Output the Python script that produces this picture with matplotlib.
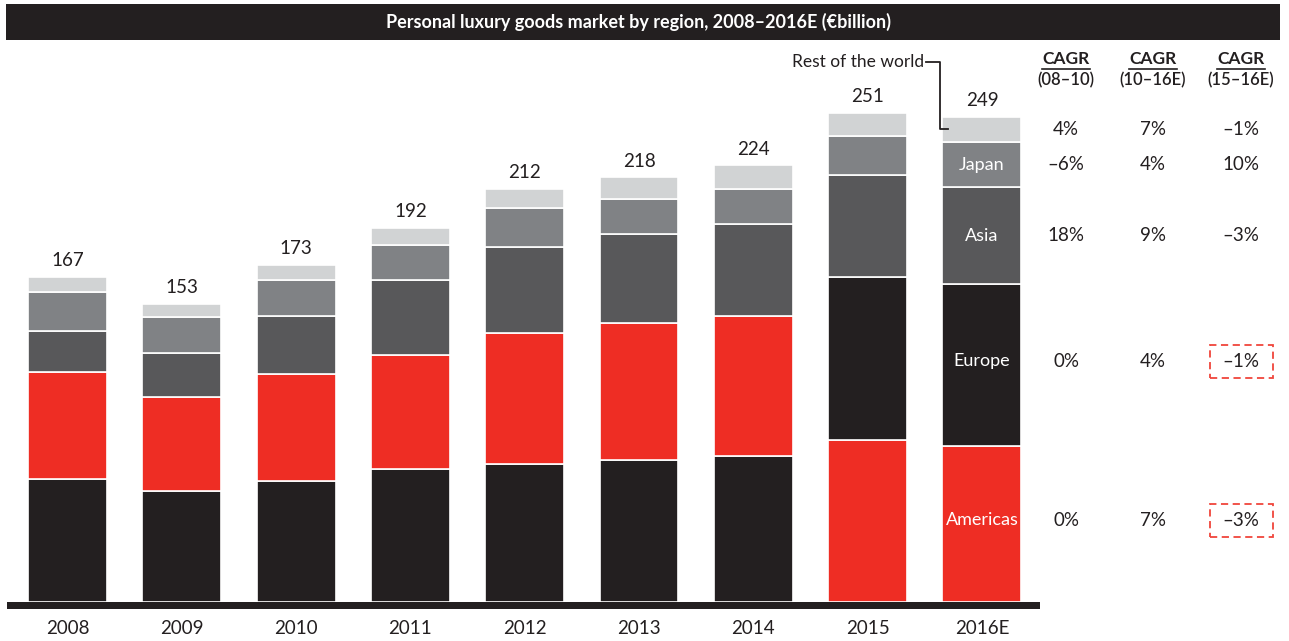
import numpy as np
import matplotlib.pyplot as plt
from matplotlib.patches import Rectangle
from matplotlib.lines import Line2D
from matplotlib.transforms import blended_transform_factory

plt.rcParams['font.family'] = ['Lato', 'DejaVu Sans']

# market size by region, €billion
years = ["2008", "2009", "2010", "2011", "2012", "2013", "2014", "2015", "2016E"]
europe = [63, 57, 62, 68, 71, 73, 75, 84, 83]
americas = [55, 48, 55, 59, 67, 70, 72, 83, 80]
asia = [21, 23, 30, 38, 44, 46, 47, 52, 50]
japan = [20, 18, 18, 18, 20, 18, 18, 20, 23]
rest_of_world = [8, 7, 8, 9, 10, 11, 12, 12, 13]
# the last two years stack Americas underneath Europe
americas_first = [False, False, False, False, False, False, False, True, True]

# CAGR table, rows: rest of world, Japan, Asia, Europe, Americas
cagr_periods = ["(08–10)", "(10–16E)", "(15–16E)"]
cagr_08_10 = ["4%", "–6%", "18%", "0%", "0%"]
cagr_10_16 = ["7%", "4%", "9%", "4%", "7%"]
cagr_15_16 = ["–1%", "10%", "–3%", "–1%", "–3%"]
flagged_15_16 = [False, False, False, True, True]

BLACK = "#231f20"
RED = "#ee2d24"
DARK = "#58585a"
MID = "#808285"
LIGHT = "#d1d3d4"

W, H = 1289, 641
fig = plt.figure(figsize=(W / 100, H / 100), dpi=100)

def fx(px):
    return px / W

def fy(py):
    return 1 - py / H

# axes from x=7..1040 px, y=40..609 px
ax = fig.add_axes([fx(7), fy(609), fx(1040 - 7), (609 - 40) / H])
ax.set_xlim(-0.529, 8.508)
ax.set_ylim(-3.6, 288.4)
ax.axis("off")

x = np.arange(len(years))
width = 0.69
eu = np.array(europe)
am = np.array(americas)
first = np.where(americas_first, am, eu)
second = np.where(americas_first, eu, am)
first_col = [RED if f else BLACK for f in americas_first]
second_col = [BLACK if f else RED for f in americas_first]

kw = dict(width=width, edgecolor="white", linewidth=1.2)
ax.bar(x, first, color=first_col, **kw)
ax.bar(x, second, bottom=first, color=second_col, **kw)
b = first + second
ax.bar(x, asia, bottom=b, color=DARK, **kw)
b = b + np.array(asia)
ax.bar(x, japan, bottom=b, color=MID, **kw)
b = b + np.array(japan)
ax.bar(x, rest_of_world, bottom=b, color=LIGHT, **kw)
totals = b + np.array(rest_of_world)

ax.axhspan(-3.6, 0, color=BLACK, lw=0)

for xi, t in zip(x, totals):
    ax.text(xi, t + 8.3, f"{t}", ha="center", va="center", fontsize=13.5, color=BLACK)
for xi, yr in zip(x, years):
    ax.text(xi, -13.5, yr, ha="center", va="center", fontsize=13.5, color=BLACK, clip_on=False)

# segment labels and CAGR rows for the last bar
last = len(years) - 1
s_am, s_eu = americas[last], europe[last]
base_eu = s_am if americas_first[last] else 0
base_am = 0 if americas_first[last] else s_eu
base_asia = s_am + s_eu
base_jp = base_asia + asia[last]
base_rw = base_jp + japan[last]
row_y = [base_rw + rest_of_world[last] / 2,
         base_jp + japan[last] / 2,
         base_asia + asia[last] / 2,
         base_eu + s_eu / 2 + 2,
         base_am + s_am / 2 + 2]
for name, yy in zip(["Japan", "Asia", "Europe", "Americas"], row_y[1:]):
    ax.text(last, yy, name, ha="center", va="center", color="white", fontsize=13)

# Rest of the world callout
bar_left = last - width / 2
y_top = totals[last] + 28
ax.text(bar_left - 0.16, y_top, "Rest of the world", ha="right", va="center",
        fontsize=12.5, color=BLACK)
ax.plot([bar_left - 0.14, bar_left - 0.02, bar_left - 0.02, bar_left + 0.05],
        [y_top, y_top, row_y[0], row_y[0]], color=BLACK, lw=1.3, clip_on=False)

# CAGR table
tr = blended_transform_factory(fig.transFigure, ax.transData)
col_x = [1066, 1153, 1241]
for cx, period in zip(col_x, cagr_periods):
    fig.text(fx(cx), fy(59), "CAGR", ha="center", va="center", fontsize=12.5,
             fontweight="bold", color=BLACK)
    fig.add_artist(Line2D([fx(cx - 24), fx(cx + 24)], [fy(69), fy(69)],
                          color=BLACK, lw=1.2))
    fig.text(fx(cx), fy(80), period, ha="center", va="center", fontsize=12,
             fontweight="semibold", color=BLACK)

for col, vals in zip(col_x, [cagr_08_10, cagr_10_16, cagr_15_16]):
    for yy, v in zip(row_y, vals):
        ax.text(fx(col), yy, v, transform=tr, ha="center", va="center",
                fontsize=13.5, color=BLACK, clip_on=False)

for yy, flag in zip(row_y, flagged_15_16):
    if flag:
        box = Rectangle((fx(1210), yy - 8.4), fx(63), 16.8, transform=tr,
                        fill=False, edgecolor="#f0453c", lw=1.3, ls=(0, (4, 2.5)),
                        clip_on=False)
        fig.add_artist(box)

# title bar
fig.add_artist(Rectangle((fx(6), fy(40)), fx(1274), 36 / H, transform=fig.transFigure,
                         color=BLACK, lw=0))
fig.text(fx(638), fy(22), "Personal luxury goods market by region, 2008–2016E (€billion)",
         ha="center", va="center", color="white", fontsize=13, fontweight="bold")

fig.savefig("out.png", dpi=100)
